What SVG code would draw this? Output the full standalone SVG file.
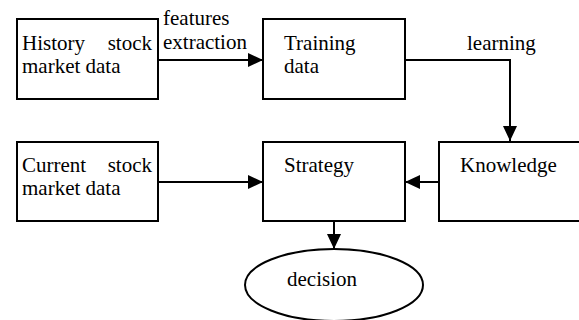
<svg xmlns="http://www.w3.org/2000/svg" width="579" height="320" viewBox="0 0 579 320">
  <style>
    .box { fill: #fff; stroke: #000; stroke-width: 2; }
    .edge { fill: none; stroke: #000; stroke-width: 2; }
    text { font-family: "Liberation Serif", "Times New Roman", serif; font-size: 21px; fill: #000; }
  </style>
  <defs>
    <marker id="arrow" markerUnits="userSpaceOnUse" markerWidth="15" markerHeight="14" refX="15" refY="7" orient="auto" viewBox="0 0 15 14">
      <path d="M0,0 L15,7 L0,14 z" fill="#000"/>
    </marker>
  </defs>
  <rect width="579" height="320" fill="#fff"/>

  <g id="connectors">
    <line class="edge" x1="158" y1="60" x2="263" y2="60" marker-end="url(#arrow)"/>
    <polyline class="edge" points="405,60 510,60 510,141" marker-end="url(#arrow)"/>
    <line class="edge" x1="158" y1="182" x2="263" y2="182" marker-end="url(#arrow)"/>
    <line class="edge" x1="439" y1="182" x2="405" y2="182" marker-end="url(#arrow)"/>
    <line class="edge" x1="334" y1="221" x2="334" y2="249" marker-end="url(#arrow)"/>
    <text x="163" y="25">features</text>
    <text x="163" y="49">extraction</text>
    <text x="467" y="50">learning</text>
  </g>

  <g id="history">
    <rect class="box" x="17" y="19" width="141" height="80"/>
    <text x="22" y="50">History</text>
    <text x="152" y="50" text-anchor="end">stock</text>
    <text x="22" y="73">market data</text>
  </g>

  <g id="training">
    <rect class="box" x="263" y="19" width="142" height="80"/>
    <text x="284" y="50">Training</text>
    <text x="284" y="73">data</text>
  </g>

  <g id="current">
    <rect class="box" x="17" y="142" width="141" height="79"/>
    <text x="22" y="172">Current</text>
    <text x="152" y="172" text-anchor="end">stock</text>
    <text x="22" y="195">market data</text>
  </g>

  <g id="strategy">
    <rect class="box" x="263" y="142" width="142" height="79"/>
    <text x="284" y="172">Strategy</text>
  </g>

  <g id="knowledge">
    <rect class="box" x="439" y="142" width="150" height="79"/>
    <text x="460" y="172">Knowledge</text>
  </g>

  <g id="decision">
    <ellipse class="box" cx="334" cy="285" rx="89" ry="36"/>
    <text x="287" y="286">decision</text>
  </g>
</svg>
